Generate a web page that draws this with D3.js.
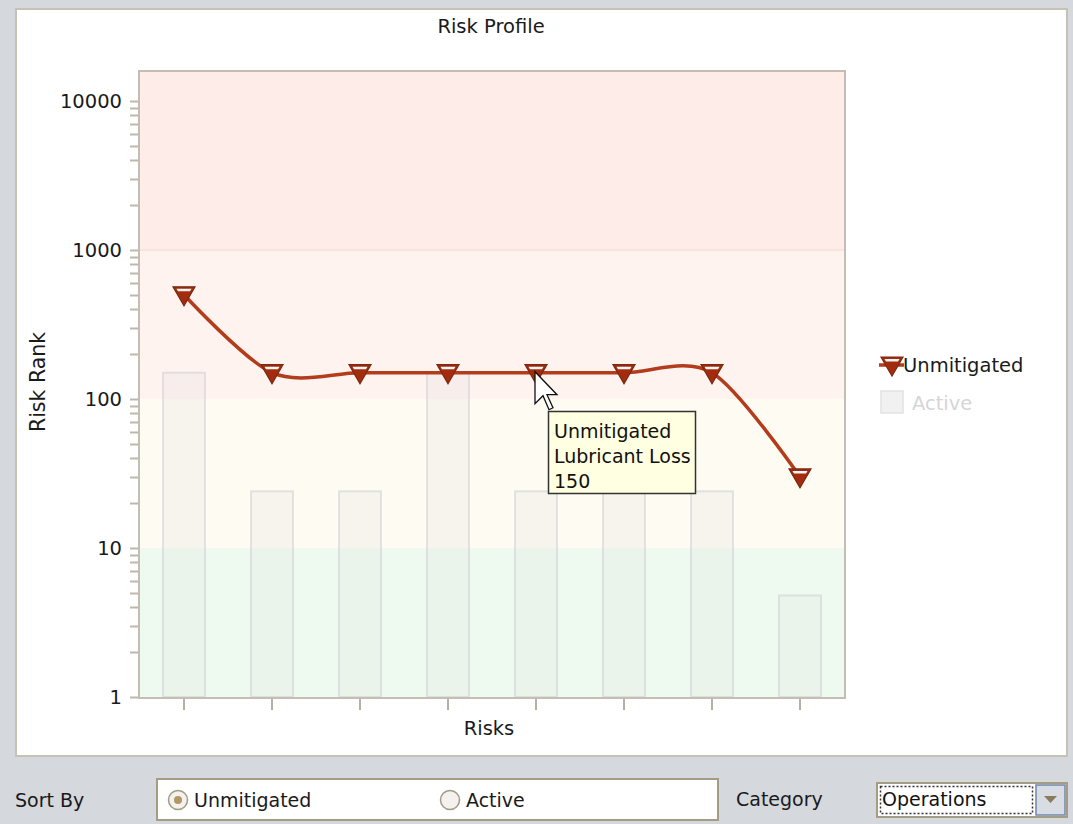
<!DOCTYPE html>
<html>
<head>
<meta charset="utf-8">
<script src="https://cdn.jsdelivr.net/npm/d3@7"></script>
<style>
  html, body { margin: 0; padding: 0; background: #d5d8dc; }
  svg { display: block; }
  text { font-family: "DejaVu Sans", Verdana, sans-serif; }
</style>
</head>
<body>
<svg id="chart" width="1073" height="824"></svg>
<script>
// ---- data ----
const categories = ["Risk 1", "Risk 2", "Risk 3", "Risk 4", "Lubricant Loss", "Risk 6", "Risk 7", "Risk 8"];
const unmitigated = [500, 150, 150, 150, 150, 150, 150, 30];
const active = [150, 24, 24, 150, 24, 24, 24, 4.8];
const yTickValues = [1, 10, 100, 1000, 10000];
const riskBands = [
  { from: 1000, to: 15635, color: "#fdece8" },
  { from: 100, to: 1000, color: "#fef3ee" },
  { from: 10, to: 100, color: "#fefbf2" },
  { from: 1, to: 10, color: "#eefaef" }
];
const hovered = 4;

const svg = d3.select("#chart");
const W = 1073, H = 824;
const FS = 19.5;

// panel background
svg.append("rect").attr("x", 0).attr("y", 0).attr("width", W).attr("height", H).attr("fill", "#d5d8dc");
svg.append("rect").attr("x", 16).attr("y", 9).attr("width", 1051).attr("height", 747)
  .attr("fill", "#ffffff").attr("stroke", "#c6c2b6").attr("stroke-width", 2);

// plot geometry
const plot = { left: 140, top: 72, right: 844, bottom: 697 };

const x = d3.scaleBand().domain(categories).range([plot.left, plot.right]).paddingInner(0).paddingOuter(0);
const y = d3.scaleLog().domain([1, 15635]).range([plot.bottom, plot.top]);

// background risk bands
svg.append("g").selectAll("rect").data(riskBands).join("rect")
  .attr("x", plot.left).attr("width", plot.right - plot.left)
  .attr("y", d => y(d.to)).attr("height", d => y(d.from) - y(d.to))
  .attr("fill", d => d.color);
svg.append("line").attr("x1", plot.left).attr("x2", plot.right)
  .attr("y1", y(1000)).attr("y2", y(1000)).attr("stroke", "#fbe3de").attr("stroke-width", 2);

// Active bars
const barW = 42;
svg.append("g").selectAll("rect").data(active).join("rect")
  .attr("x", (d, i) => x(categories[i]) + x.bandwidth() / 2 - barW / 2)
  .attr("width", barW)
  .attr("y", d => y(d))
  .attr("height", d => plot.bottom - y(d))
  .attr("fill", "rgba(215,215,222,0.17)")
  .attr("stroke", "rgba(205,205,214,0.55)")
  .attr("stroke-width", 2);

// plot frame
svg.append("rect").attr("x", plot.left - 1).attr("y", plot.top - 1)
  .attr("width", plot.right - plot.left + 2).attr("height", plot.bottom - plot.top + 2)
  .attr("fill", "none").attr("stroke", "#c3beb1").attr("stroke-width", 2);

// y axis: labels at decades, minor ticks at 1..9 x 10^k
const minor = [];
for (let k = 0; k <= 4; k++) for (let m = 1; m <= 9; m++) {
  const v = m * Math.pow(10, k);
  if (v <= 15635) minor.push(v);
}
const yAxis = svg.append("g");
yAxis.selectAll("line").data(minor).join("line")
  .attr("x1", plot.left - 10).attr("x2", plot.left - 2)
  .attr("y1", d => Math.round(y(d)) + 0.5).attr("y2", d => Math.round(y(d)) + 0.5)
  .attr("stroke", "#bdb8ab").attr("stroke-width", 2);
yAxis.selectAll("text").data(yTickValues).join("text")
  .attr("x", 122).attr("y", d => y(d)).attr("dy", "0.35em")
  .attr("text-anchor", "end").attr("font-size", FS).attr("fill", "#1a1a1a")
  .text(d => d3.format("d")(d));

// x axis ticks
svg.append("g").selectAll("line").data(categories).join("line")
  .attr("x1", d => x(d) + x.bandwidth() / 2).attr("x2", d => x(d) + x.bandwidth() / 2)
  .attr("y1", plot.bottom + 2).attr("y2", plot.bottom + 13)
  .attr("stroke", "#b5b0a4").attr("stroke-width", 2);

// titles
svg.append("text").attr("x", 491).attr("y", 33).attr("text-anchor", "middle")
  .attr("font-size", FS).attr("fill", "#1a1a1a").text("Risk Profile");
svg.append("text").attr("x", 489).attr("y", 735).attr("text-anchor", "middle")
  .attr("font-size", FS).attr("fill", "#1a1a1a").text("Risks");
svg.append("text").attr("transform", "translate(45,382) rotate(-90)").attr("text-anchor", "middle")
  .attr("font-size", 20.5).attr("fill", "#1a1a1a").text("Risk Rank");

// Unmitigated spline
const lineColor = "#b23c1c";
const line = d3.line()
  .x((d, i) => x(categories[i]) + x.bandwidth() / 2)
  .y(d => y(d))
  .curve(d3.curveCardinal.tension(0.1));
svg.append("path").datum(unmitigated).attr("d", line)
  .attr("fill", "none").attr("stroke", lineColor).attr("stroke-width", 3.5);

// triangle marker
function marker(g, cx, cy) {
  const w = 11;
  g.append("path")
    .attr("d", `M${cx - w},${cy - 8} L${cx + w},${cy - 8} L${cx},${cy + 11} Z`)
    .attr("fill", "#a32c0e").attr("stroke", "#7a2813").attr("stroke-width", 1.2);
  g.append("path")
    .attr("d", `M${cx - 7.5},${cy - 6} L${cx + 7.5},${cy - 6} L${cx + 6},${cy - 3.5} L${cx - 6},${cy - 3.5} Z`)
    .attr("fill", "#ffffff").attr("opacity", 0.95);
}
const markers = svg.append("g");
unmitigated.forEach((v, i) => marker(markers, x(categories[i]) + x.bandwidth() / 2, y(v)));

// legend
const lg = svg.append("g");
lg.append("line").attr("x1", 879).attr("x2", 904).attr("y1", 365).attr("y2", 365)
  .attr("stroke", lineColor).attr("stroke-width", 3.5);
marker(lg, 892, 365);
lg.append("text").attr("x", 903).attr("y", 365).attr("dy", "0.35em")
  .attr("font-size", FS).attr("fill", "#1a1a1a").text("Unmitigated");
lg.append("rect").attr("x", 881).attr("y", 391).attr("width", 22).attr("height", 22)
  .attr("fill", "#f1f1f1").attr("stroke", "#e2e2e2").attr("stroke-width", 1.5);
lg.append("text").attr("x", 912).attr("y", 403).attr("dy", "0.35em")
  .attr("font-size", FS).attr("fill", "#d6d6d6").text("Active");

// tooltip for the hovered point
const tip = svg.append("g");
tip.append("rect").attr("x", 548.5).attr("y", 411.5).attr("width", 147).attr("height", 82)
  .attr("fill", "#ffffe1").attr("stroke", "#333").attr("stroke-width", 1.5);
[ "Unmitigated", categories[hovered], String(unmitigated[hovered]) ].forEach((t, i) => {
  tip.append("text").attr("x", 554).attr("y", 438 + i * 25).attr("font-size", 19)
    .attr("fill", "#111").text(t);
});

// mouse pointer
const px = x(categories[hovered]) + x.bandwidth() / 2 - 1, py = y(unmitigated[hovered]) - 1;
const s = 2;
const arrow = [[0,0],[0,16],[4,12],[7,19],[9,18],[6,11.5],[11,11.5]];
svg.append("path")
  .attr("d", "M" + arrow.map(p => `${px + p[0] * s},${py + p[1] * s}`).join("L") + "Z")
  .attr("fill", "#fff").attr("stroke", "#111").attr("stroke-width", 1.3);

// bottom controls
const ctl = svg.append("g");
ctl.append("text").attr("x", 15).attr("y", 807).attr("font-size", FS - 0.5).attr("fill", "#1a1a1a").text("Sort By");
ctl.append("rect").attr("x", 157).attr("y", 779).attr("width", 561).attr("height", 41)
  .attr("fill", "#fff").attr("stroke", "#a59c85").attr("stroke-width", 2);
// radio buttons
function radio(cx, cy, checked, label) {
  ctl.append("circle").attr("cx", cx).attr("cy", cy).attr("r", 9.5)
    .attr("fill", "#f3f2ee").attr("stroke", "#a39b86").attr("stroke-width", 1.5);
  if (checked) ctl.append("circle").attr("cx", cx).attr("cy", cy).attr("r", 4)
    .attr("fill", "#b39566");
  ctl.append("text").attr("x", cx + 16).attr("y", cy + 7).attr("font-size", FS - 0.5).attr("fill", "#1a1a1a").text(label);
}
radio(178, 800, true, "Unmitigated");
radio(450, 800, false, "Active");
ctl.append("text").attr("x", 736).attr("y", 806).attr("font-size", FS - 0.5).attr("fill", "#1a1a1a").text("Category");
// dropdown
ctl.append("rect").attr("x", 877).attr("y", 783).attr("width", 190).attr("height", 34)
  .attr("fill", "#fff").attr("stroke", "#a59c85").attr("stroke-width", 2);
ctl.append("rect").attr("x", 880.5).attr("y", 786.5).attr("width", 152).attr("height", 27)
  .attr("fill", "none").attr("stroke", "#333").attr("stroke-width", 1.5).attr("stroke-dasharray", "2,2");
ctl.append("text").attr("x", 882).attr("y", 806).attr("font-size", FS - 0.5).attr("fill", "#111").text("Operations");
ctl.append("rect").attr("x", 1036).attr("y", 785).attr("width", 29).attr("height", 30)
  .attr("fill", "#d9dde3").attr("stroke", "#6f86a8").attr("stroke-width", 1.5);
ctl.append("path").attr("d", "M1044,796 L1057,796 L1050.5,803 Z").attr("fill", "#8a7a5e");
</script>
</body>
</html>
